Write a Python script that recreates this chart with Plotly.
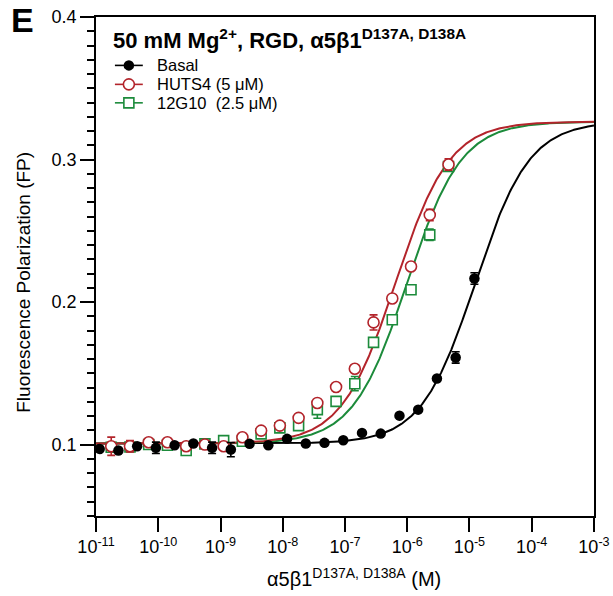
import numpy as np
import plotly.graph_objects as go

# ---------------- data ----------------
basal_conc = [1.144e-11, 2.289e-11, 4.578e-11, 9.155e-11, 1.831e-10, 3.662e-10, 7.324e-10,
              1.465e-9, 2.930e-9, 5.859e-9, 1.171875e-8, 2.34375e-8, 4.6875e-8, 9.375e-8,
              1.875e-7, 3.75e-7, 7.5e-7, 1.5e-6, 3.0e-6, 6.0e-6, 1.2e-5]
basal_fp = [0.0970, 0.0959, 0.0989, 0.0978, 0.0996, 0.1008, 0.0978, 0.0966, 0.1006, 0.0996,
            0.1041, 0.1008, 0.1013, 0.1031, 0.1083, 0.1078, 0.1204, 0.1246, 0.1465, 0.1612, 0.2166]
basal_err = [0, 0, 0, 0.004, 0, 0, 0.004, 0.005, 0, 0,
             0, 0, 0, 0, 0, 0, 0, 0, 0, 0.004, 0.004]

ab_conc = [1.755e-11, 3.510e-11, 7.019e-11, 1.404e-10, 2.808e-10, 5.615e-10, 1.123e-9,
           2.246e-9, 4.492e-9, 8.984e-9, 1.796875e-8, 3.59375e-8, 7.1875e-8, 1.4375e-7,
           2.875e-7, 5.75e-7, 1.15e-6, 2.3e-6, 4.6e-6]
huts4_fp = [0.0989, 0.0989, 0.1017, 0.1017, 0.0989, 0.1001, 0.0989, 0.1052, 0.1099, 0.1134,
            0.1188, 0.1293, 0.1405, 0.1533, 0.1858, 0.2026, 0.2250, 0.2612, 0.2965]
huts4_err = [0.0064, 0.004, 0, 0, 0, 0, 0, 0, 0, 0,
             0, 0, 0, 0, 0.0053, 0, 0, 0.004, 0.004]
g12_fp = [0.0982, 0.0984, 0.1001, 0.0996, 0.0959, 0.1006, 0.1029, 0.1024, 0.1076, 0.1118,
          0.1134, 0.1246, 0.1304, 0.1428, 0.1718, 0.1877, 0.2087, 0.2472, 0.2951]
g12_err = [0, 0, 0, 0, 0, 0, 0, 0, 0, 0,
           0, 0.006, 0, 0.005, 0, 0, 0, 0.004, 0.003]

# fitted one-site binding parameters
fit_bottom = 0.1008
fit_top = 0.3266
kd_basal = 1.24e-5
kd_huts4 = 6.5e-7
kd_12g10 = 1.0e-6

x_ticks = [1e-11, 1e-10, 1e-9, 1e-8, 1e-7, 1e-6, 1e-5, 1e-4, 1e-3]
x_ticktext = ["10<sup>-11</sup>", "10<sup>-10</sup>", "10<sup>-9</sup>", "10<sup>-8</sup>",
              "10<sup>-7</sup>", "10<sup>-6</sup>", "10<sup>-5</sup>", "10<sup>-4</sup>",
              "10<sup>-3</sup>"]
y_ticks = [0.1, 0.2, 0.3, 0.4]
y_ticktext = ["0.1", "0.2", "0.3", "0.4"]

legend_names = ["Basal", "HUTS4 (5 μM)", "12G10  (2.5 μM)"]

BLACK = "#000000"
RED = "#B3242B"
GREEN = "#1C8B3B"
FONT = "Liberation Sans, Arial, sans-serif"

xfit = np.logspace(-11, -3, 500)


def fit(kd):
    return fit_bottom + (fit_top - fit_bottom) * xfit / (xfit + kd)


fig = go.Figure()

# fitted curves
for kd, col in [(kd_basal, BLACK), (kd_12g10, GREEN), (kd_huts4, RED)]:
    fig.add_trace(go.Scatter(x=xfit, y=fit(kd), mode="lines",
                             line=dict(color=col, width=2), showlegend=False,
                             hoverinfo="skip"))

green_marker = dict(symbol="square", size=10, color="white", line=dict(color=GREEN, width=1.6))
red_marker = dict(symbol="circle", size=11, color="white", line=dict(color=RED, width=1.6))
black_marker = dict(symbol="circle", size=10.5, color=BLACK)

# data points
fig.add_trace(go.Scatter(
    x=ab_conc, y=g12_fp, mode="markers", showlegend=False, marker=green_marker,
    error_y=dict(type="data", array=g12_err, color=GREEN, thickness=1.6, width=4)))
fig.add_trace(go.Scatter(
    x=ab_conc, y=huts4_fp, mode="markers", showlegend=False, marker=red_marker,
    error_y=dict(type="data", array=huts4_err, color=RED, thickness=1.6, width=4)))
fig.add_trace(go.Scatter(
    x=basal_conc, y=basal_fp, mode="markers", showlegend=False, marker=black_marker,
    error_y=dict(type="data", array=basal_err, color=BLACK, thickness=1.6, width=4)))

# hand-built legend keys on an overlay axis (fractions of the plot area)
leg_y = [0.903, 0.865, 0.828]
leg_x0, leg_xm, leg_x1, leg_tx = 0.038, 0.066, 0.094, 0.118
for yy, col, mk, name in zip(leg_y, [BLACK, RED, GREEN],
                             [black_marker, red_marker, green_marker], legend_names):
    fig.add_trace(go.Scatter(x=[leg_x0, leg_x1], y=[yy, yy], mode="lines",
                             line=dict(color=col, width=1.6), xaxis="x2", yaxis="y2",
                             showlegend=False, hoverinfo="skip"))
    fig.add_trace(go.Scatter(x=[leg_xm], y=[yy], mode="markers", marker=mk,
                             xaxis="x2", yaxis="y2", showlegend=False, hoverinfo="skip"))
    fig.add_annotation(text=name, xref="paper", yref="paper", x=leg_tx, y=yy,
                       xanchor="left", yanchor="middle", showarrow=False,
                       font=dict(size=16.5, family=FONT, color="black"))

fig.update_layout(
    width=613, height=596,
    margin=dict(l=96, r=19, t=17, b=80, autoexpand=False),
    paper_bgcolor="white", plot_bgcolor="white",
    font=dict(family=FONT, color="black", size=17),
    showlegend=False,
    xaxis=dict(type="log", range=[-11.0005, -2.9995], tickvals=x_ticks, ticktext=x_ticktext,
               ticks="outside", ticklen=14, tickwidth=1.6, tickcolor="black",
               showline=True, linecolor="black", linewidth=1.6, mirror=True,
               showgrid=False, zeroline=False, automargin=False,
               tickfont=dict(size=18, family=FONT)),
    yaxis=dict(range=[0.05, 0.4], tickvals=y_ticks, ticktext=y_ticktext,
               ticks="outside", ticklen=14, tickwidth=1.6, tickcolor="black",
               showline=True, linecolor="black", linewidth=1.6, mirror=True,
               showgrid=False, zeroline=False, automargin=False,
               tickfont=dict(size=18, family=FONT),
               minor=dict(dtick=0.01, ticks="outside", ticklen=7, tickwidth=1.6,
                          tickcolor="black", showgrid=False)),
    xaxis2=dict(overlaying="x", range=[0, 1], visible=False, anchor="y2"),
    yaxis2=dict(overlaying="y", range=[0, 1], visible=False, anchor="x2"),
)

fig.add_annotation(text="<b>E</b>", xref="paper", yref="paper", x=-0.148, y=0.993,
                   xanchor="center", yanchor="middle", showarrow=False,
                   font=dict(size=34, family=FONT))
fig.add_annotation(text="<b>50 mM Mg<sup>2+</sup>, RGD, α5β1<sup>D137A, D138A</sup></b>",
                   xref="paper", yref="paper", x=0.030, y=0.956,
                   xanchor="left", yanchor="middle", showarrow=False,
                   font=dict(size=22, family=FONT))
fig.add_annotation(text="Fluorescence Polarization (FP)", xref="paper", yref="paper",
                   x=-0.145, y=0.469, xanchor="center", yanchor="middle", textangle=-90,
                   showarrow=False, font=dict(size=19, family=FONT))
fig.add_annotation(text="α5β1<sup>D137A, D138A</sup> (M)", xref="paper", yref="paper",
                   x=0.518, y=-0.124, xanchor="center", yanchor="middle",
                   showarrow=False, font=dict(size=20, family=FONT))

fig.write_html("out.html")
